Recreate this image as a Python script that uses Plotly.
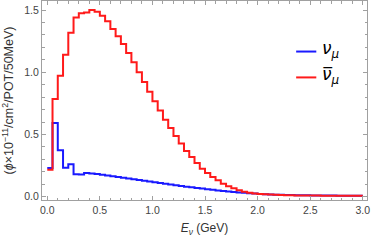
import plotly.graph_objects as go

bin_width = 0.05
numu = [0.23, 0.592, 0.372, 0.232, 0.26, 0.18, 0.179, 0.19, 0.187, 0.182,
        0.176, 0.170, 0.164, 0.158, 0.152, 0.146, 0.140, 0.134, 0.128, 0.122,
        0.116, 0.110, 0.104, 0.098, 0.092, 0.086, 0.080, 0.075, 0.070, 0.065,
        0.060, 0.055, 0.050, 0.046, 0.042, 0.038, 0.034, 0.031, 0.028, 0.025,
        0.022, 0.020, 0.018, 0.016, 0.015, 0.014, 0.013, 0.012, 0.011, 0.011,
        0.010, 0.010, 0.009, 0.009, 0.009, 0.008, 0.008, 0.008, 0.008, 0.008]
numubar = [0.217, 0.785, 0.972, 1.14, 1.317, 1.44, 1.475, 1.48, 1.50, 1.487,
           1.455, 1.41, 1.347, 1.289, 1.228, 1.155, 1.08, 1.0, 0.922, 0.844,
           0.766, 0.692, 0.618, 0.552, 0.488, 0.428, 0.367, 0.319, 0.27, 0.225,
           0.19, 0.158, 0.131, 0.104, 0.083, 0.067, 0.051, 0.040, 0.032, 0.026,
           0.022, 0.019, 0.017, 0.015, 0.013, 0.012, 0.011, 0.010, 0.010, 0.009,
           0.009, 0.009, 0.008, 0.008, 0.008, 0.008, 0.007, 0.007, 0.007, 0.007]
series_names = ["<i>ν</i><sub><i>μ</i></sub>", "<i>ν\u0305</i><sub><i>μ</i></sub>"]
series_colors = ["#1a1aff", "#ff1a1a"]
x_ticks = [0.0, 0.5, 1.0, 1.5, 2.0, 2.5, 3.0]
y_ticks = [0.0, 0.5, 1.0, 1.5]

edges = [i * bin_width for i in range(len(numu) + 1)]

def step(vals):
    return edges, list(vals) + [vals[-1]]

fig = go.Figure()
for vals, name, color in zip([numu, numubar], series_names, series_colors):
    xs, ys = step(vals)
    fig.add_trace(go.Scatter(x=xs, y=ys, mode="lines", line_shape="hv",
                             line=dict(color=color, width=2), name=name,
                             showlegend=False))

# manual legend (short line samples like the reference)
legend_y = [0.746, 0.616]
for ly, name, color in zip(legend_y, series_names, series_colors):
    fig.add_shape(type="line", xref="paper", yref="paper",
                  x0=0.782, x1=0.844, y0=ly, y1=ly,
                  line=dict(color=color, width=2))
    fig.add_annotation(xref="paper", yref="paper", x=0.855, y=ly + 0.01,
                       xanchor="left", yanchor="middle", showarrow=False,
                       text=name,
                       font=dict(family="DejaVu Sans", size=17, color="#000000"))

axis_common = dict(showline=True, linecolor="#a0a0a0", linewidth=1, mirror="allticks",
                   ticks="inside", ticklen=4, tickcolor="#a0a0a0", tickwidth=1,
                   showgrid=False, zeroline=False,
                   tickfont=dict(family="Liberation Sans, Arial", size=10.5, color="#444444"),
                   minor=dict(ticks="inside", ticklen=2.5, tickcolor="#a0a0a0", dtick=0.1))

fig.update_xaxes(range=[-0.05, 3.04], tickvals=x_ticks,
                 ticktext=[f"{v:.1f}" for v in x_ticks],
                 title=dict(text="<i>E</i><sub><i>ν</i></sub> (GeV)", standoff=9,
                            font=dict(family="Liberation Sans, Arial", size=12, color="#333333")),
                 **axis_common)
fig.update_yaxes(range=[-0.027, 1.573], tickvals=y_ticks,
                 ticktext=[f"{v:.1f}" for v in y_ticks],
                 title=dict(text="(<i>ϕ</i>×10<sup>−11</sup>/cm<sup>2</sup>/POT/50MeV)", standoff=7,
                            font=dict(family="Liberation Sans, Arial", size=12.5, color="#333333")),
                 **axis_common)

fig.update_layout(width=374, height=243, margin=dict(l=42, r=7, t=1, b=43),
                  plot_bgcolor="white", paper_bgcolor="white",
                  showlegend=False)

fig.write_html("out.html", config={"displayModeBar": False},
               post_script="document.body.style.margin='0';document.body.style.overflow='hidden';")
